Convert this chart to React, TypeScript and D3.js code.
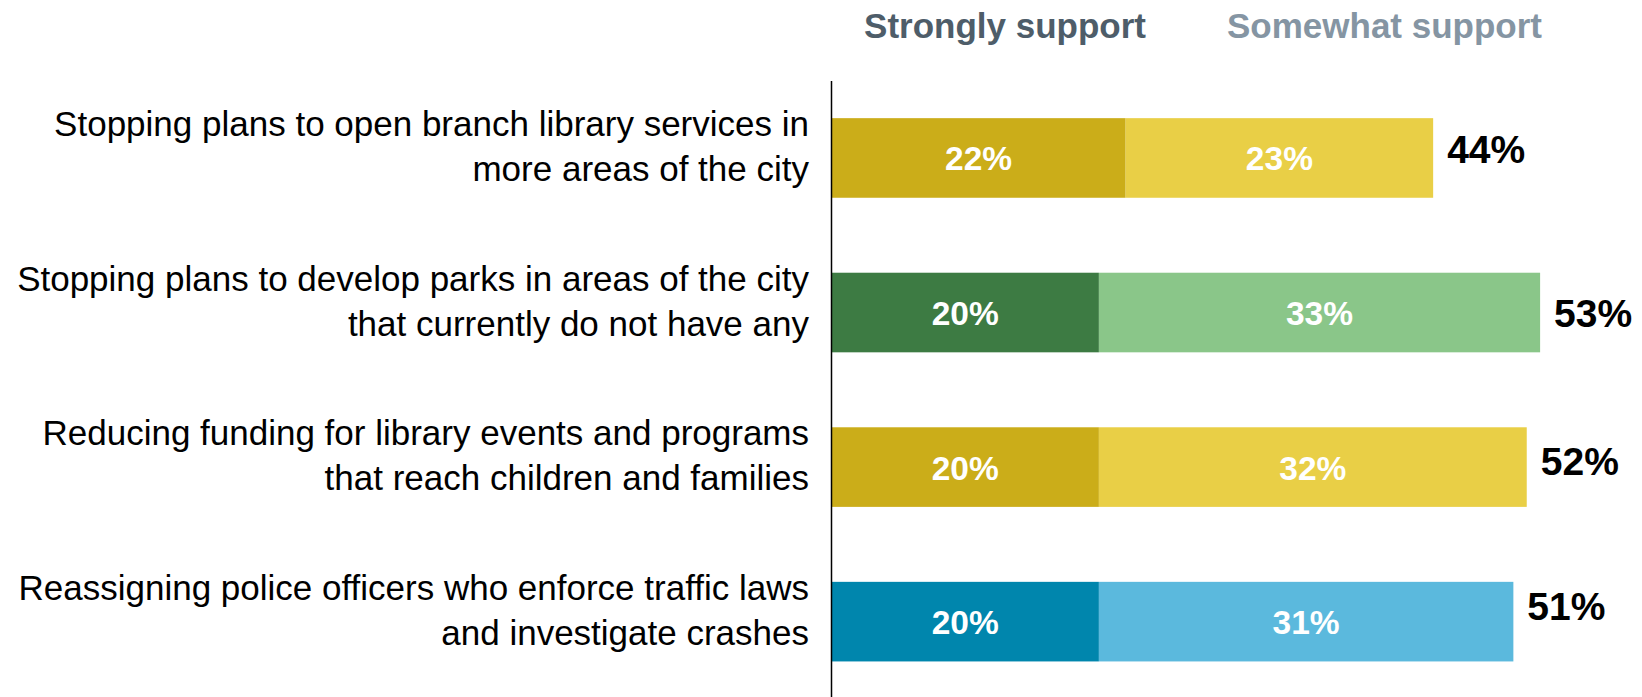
import React from "react";
import * as d3 from "d3";

const categories: string[][] = [
  ["Stopping plans to open branch library services in", "more areas of the city"],
  ["Stopping plans to develop parks in areas of the city", "that currently do not have any"],
  ["Reducing funding for library events and programs", "that reach children and families"],
  ["Reassigning police officers who enforce traffic laws", "and investigate crashes"],
];
const strongly = [22, 20, 20, 20];
const somewhat = [23, 33, 32, 31];
const totals = [44, 53, 52, 51];
const seriesNames = ["Strongly support", "Somewhat support"];
const darkColors = ["#cbad19", "#3d7b43", "#cbad19", "#0086ad"];
const lightColors = ["#e9cf46", "#8ac689", "#e9cf46", "#5bb9dd"];
const totalDy = [-9, 0, -6, -16];

const W = 1642;
const H = 697;
const axisX = 831.5;

export default function App() {
  const x = d3.scaleLinear().domain([0, 100]).range([axisX, axisX + 1337]);
  const y = d3
    .scaleBand<number>()
    .domain(d3.range(categories.length))
    .range([80.6, 699])
    .paddingInner(0.485)
    .paddingOuter(0.243);
  const bh = y.bandwidth();
  const font = "Liberation Sans, Arial, Helvetica, sans-serif";
  return (
    <svg
      width={W}
      height={H}
      style={{ position: "absolute", left: 0, top: 0, background: "#fff" }}
      fontFamily={font}
    >
      <text x={1005} y={37.5} textAnchor="middle" fontSize={35} fontWeight="bold" fill="#4e5d69">
        {seriesNames[0]}
      </text>
      <text x={1384.5} y={37.5} textAnchor="middle" fontSize={35} fontWeight="bold" fill="#8595a3">
        {seriesNames[1]}
      </text>
      {categories.map((lines, i) => {
        const y0 = y(i)!;
        const cy = y0 + bh / 2;
        const x1 = x(strongly[i]);
        const x2 = x(strongly[i] + somewhat[i]);
        return (
          <g key={i}>
            <rect x={x(0)} y={y0} width={x1 - x(0)} height={bh} fill={darkColors[i]} />
            <rect x={x1} y={y0} width={x2 - x1} height={bh} fill={lightColors[i]} />
            <text x={(x(0) + x1) / 2} y={cy + 12.5} textAnchor="middle" fontSize={33.5} fontWeight="bold" fill="#fff">
              {strongly[i]}%
            </text>
            <text x={(x1 + x2) / 2} y={cy + 12.5} textAnchor="middle" fontSize={33.5} fontWeight="bold" fill="#fff">
              {somewhat[i]}%
            </text>
            <text x={x2 + 14} y={cy + 14 + totalDy[i]} fontSize={39} fontWeight="bold" fill="#000">
              {totals[i]}%
            </text>
            <text textAnchor="end" fontSize={35} fill="#000">
              {lines.map((l, j) => (
                <tspan key={j} x={809} y={cy - 22 + j * 45}>
                  {l}
                </tspan>
              ))}
            </text>
          </g>
        );
      })}
      <line x1={axisX} x2={axisX} y1={81} y2={H} stroke="#000" strokeWidth={1.5} />
    </svg>
  );
}
